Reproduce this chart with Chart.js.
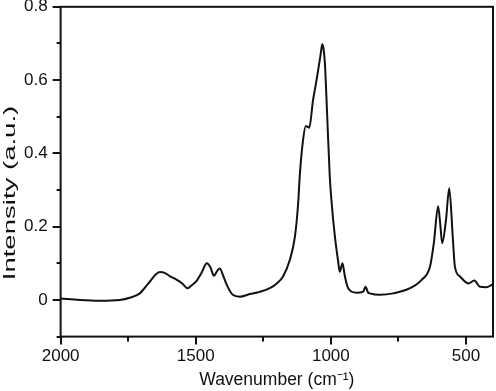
<!DOCTYPE html>
<html>
<head>
<meta charset="utf-8">
<script src="https://cdn.jsdelivr.net/npm/chart.js@4.4.1/dist/chart.umd.min.js"></script>
<style>
  html, body { margin: 0; padding: 0; background: #fff; }
  #wrap { width: 496px; height: 391px; }
</style>
</head>
<body>
<div id="wrap"><canvas id="c" width="496" height="391"></canvas></div>
<script>
/* Spectre IR — intensité vs nombre d'onde */

const wavenumbers = [
  2000, 1930, 1856, 1781, 1744, 1707, 1690, 1670, 1650, 1633,
  1615, 1596, 1570, 1550, 1530, 1515, 1496, 1478, 1459, 1445,
  1433, 1420, 1411, 1398, 1385, 1363, 1337, 1300, 1263, 1226,
  1200, 1177, 1152, 1133, 1121, 1115, 1103, 1093, 1085, 1080,
  1066, 1053, 1040, 1036, 1032, 1027, 1022, 1014, 1004, 997,
  985, 973, 967, 957, 948, 936, 905, 880, 872, 862,
  856, 819, 769, 707, 664, 633, 619, 603, 595, 588,
  574, 562, 549, 541, 522, 491, 469, 448, 424, 405, 400
];
const intensity = [
  0.004, 0.000, -0.002, 0.000, 0.006, 0.018, 0.032, 0.050, 0.068, 0.076,
  0.074, 0.065, 0.055, 0.045, 0.032, 0.040, 0.053, 0.075, 0.100, 0.088,
  0.066, 0.080, 0.086, 0.065, 0.041, 0.014, 0.009, 0.016, 0.022, 0.032,
  0.045, 0.064, 0.109, 0.173, 0.264, 0.340, 0.436, 0.475, 0.472, 0.470,
  0.545, 0.600, 0.660, 0.680, 0.698, 0.685, 0.645, 0.510, 0.336, 0.264,
  0.173, 0.105, 0.077, 0.100, 0.064, 0.032, 0.020, 0.023, 0.036, 0.020,
  0.018, 0.014, 0.018, 0.032, 0.055, 0.091, 0.155, 0.256, 0.205, 0.155,
  0.218, 0.305, 0.173, 0.091, 0.064, 0.045, 0.053, 0.036, 0.035, 0.041, 0.044
];

const xTicks = [2000, 1750, 1500, 1250, 1000, 750, 500];
const yTicks = [-0.1, 0, 0.1, 0.2, 0.3, 0.4, 0.5, 0.6, 0.7, 0.8];

const xTitle = 'Wavenumber (cm\u207B\u00B9)';
const yTitle = 'Intensity (a.u.)';

const FONT = "'Liberation Sans', Arial, Helvetica, sans-serif";
const INK  = '#111';

// Cadre + graduations (majeures / mineures) + titre Y étiré
const framePlugin = {
  id: 'frame',
  afterDraw(chart) {
    const { ctx, chartArea: a, scales } = chart;
    ctx.save();
    ctx.strokeStyle = INK;
    ctx.lineWidth = 2;

    ctx.beginPath();
    scales.x.ticks.forEach(t => {
      const px = Math.round(scales.x.getPixelForValue(t.value));
      const len = t.value % 500 === 0 ? 8 : 5;
      ctx.moveTo(px, a.bottom);
      ctx.lineTo(px, a.bottom + len);
    });
    scales.y.ticks.forEach(t => {
      const py = Math.round(scales.y.getPixelForValue(t.value));
      const k = Math.round(t.value * 10);
      const len = (k >= 0 && k % 2 === 0) ? 8 : 4;
      ctx.moveTo(a.left, py);
      ctx.lineTo(a.left - len, py);
    });
    ctx.stroke();

    ctx.strokeRect(a.left, a.top, a.right - a.left, a.bottom - a.top);

    // titre de l'axe Y (étiré comme sur la figure d'origine)
    ctx.fillStyle = INK;
    ctx.font = `17px ${FONT}`;
    ctx.textAlign = 'center';
    ctx.textBaseline = 'middle';
    ctx.translate(10, 193);
    ctx.rotate(-Math.PI / 2);
    ctx.scale(1.62, 1);
    ctx.fillText(yTitle, 0, 0);
    ctx.restore();
  },
};

new Chart(document.getElementById('c'), {
  type: 'line',
  data: {
    datasets: [{
      data: wavenumbers.map((w, i) => ({ x: w, y: intensity[i] })),
      borderColor: INK,
      borderWidth: 2,
      pointRadius: 0,
      cubicInterpolationMode: 'monotone',
      fill: false,
    }],
  },
  options: {
    responsive: false,
    animation: false,
    layout: { padding: { left: 24, right: 3, top: 0, bottom: 0 } },
    plugins: {
      legend:  { display: false },
      tooltip: { enabled: false },
    },
    scales: {
      x: {
        type: 'linear',
        reverse: true,
        min: 400,
        max: 2000,
        afterBuildTicks: s => { s.ticks = xTicks.map(v => ({ value: v })); },
        grid:   { display: false, drawTicks: true, tickLength: 8 },
        border: { display: false },
        ticks: {
          color: INK,
          padding: 2,
          maxRotation: 0,
          autoSkip: false,
          font: { family: FONT, size: 17 },
          callback: v => (v % 500 === 0 ? String(v) : ''),
        },
        title: {
          display: true,
          text: xTitle,
          color: INK,
          padding: { top: 1, bottom: 0 },
          font: { family: FONT, size: 17.5 },
        },
      },
      y: {
        min: -0.1,
        max: 0.8,
        afterBuildTicks: s => { s.ticks = yTicks.map(v => ({ value: v })); },
        grid:   { display: false, drawTicks: true, tickLength: 13 },
        border: { display: false },
        ticks: {
          color: INK,
          padding: 0,
          autoSkip: false,
          font: { family: FONT, size: 17, lineHeight: 0.8 },
          callback: v => {
            const k = Math.round(v * 10);
            if (k < 0 || k % 2 !== 0) return '';
            return k === 0 ? '0' : (k / 10).toFixed(1);
          },
        },
      },
    },
  },
  plugins: [framePlugin],
});
</script>
</body>
</html>
